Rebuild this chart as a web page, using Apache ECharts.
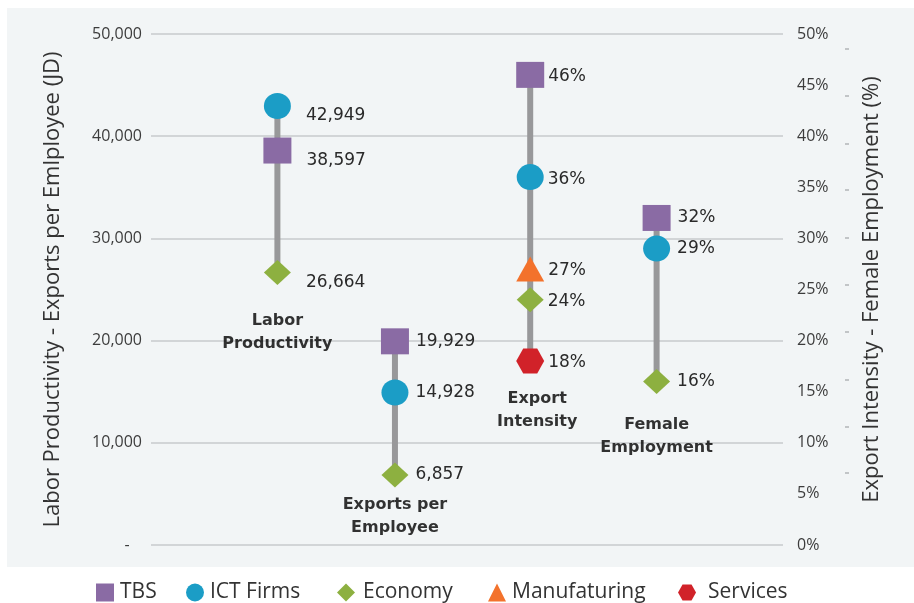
<!DOCTYPE html>
<html>
<head>
<meta charset="utf-8">
<script src="https://cdn.jsdelivr.net/npm/echarts@6/dist/echarts.min.js"></script>
<style>
  html, body { margin: 0; padding: 0; background: #ffffff; }
  #chart { width: 914px; height: 603px; }
</style>
</head>
<body>
<div id="chart"></div>
<script>
// Indicator groups along the horizontal axis
const categories = ['Labor\nProductivity', 'Exports per\nEmployee', 'Export\nIntensity', 'Female\nEmployment'];
const categoryX = [1, 1.93, 3, 4];
// 0 = JD axis on the left, 1 = percent axis on the right
const categoryAxis = [0, 0, 1, 1];

// Values per firm group (JD for the first two indicators, % for the last two)
const tbs = [38597, 19929, 46, 32];
const ictFirms = [42949, 14928, 36, 29];
const economy = [26664, 6857, 24, 16];
const manufacturing = [null, null, 27, null];
const services = [null, null, 18, null];

// Small dashes drawn beside the percent scale
const percentDashValues = [48.6, 44.0, 39.3, 34.8, 30.1, 25.5, 20.9, 16.2, 11.6, 7.1];

const HEXAGON = 'path://M0,50 L25,6 L75,6 L100,50 L75,94 L25,94 Z';
const labelFont = 'DejaVu Sans';
const textFont = 'Open Sans';

const groups = [
  { name: 'TBS', values: tbs, symbol: 'rect', size: [28, 26], color: '#8a6ba4' },
  { name: 'ICT Firms', values: ictFirms, symbol: 'circle', size: [27, 26], color: '#1b9dc6' },
  { name: 'Economy', values: economy, symbol: 'diamond', size: [27, 25], color: '#8db040' },
  { name: 'Manufaturing', values: manufacturing, symbol: 'triangle', size: [28, 25], color: '#f3722c' },
  { name: 'Services', values: services, symbol: HEXAGON, size: [28, 25], color: '#d12229' }
];

// per-indicator nudges of the value labels and of the indicator titles
const valueLabelShift = [[10, 10], [2, 0], [-1, 2], [2, 0]];
const titleShift = [[0, 60], [0, 41], [7, 49], [0, 55]];
// left edge of each legend entry
const legendLeft = [96, 186, 337, 488, 678];
const legendTextGap = [6, 6, 8, 6, 12];

function fmt(v, axis) {
  return axis === 0 ? v.toLocaleString('en-US') : v + '%';
}

const series = [];

// grey stems joining the highest and lowest value of each indicator
categories.forEach((c, i) => {
  const vals = groups.map(g => g.values[i]).filter(v => v != null);
  series.push({
    type: 'line',
    yAxisIndex: categoryAxis[i],
    data: [[categoryX[i], Math.max(...vals)], [categoryX[i], Math.min(...vals)]],
    symbol: 'none',
    silent: true,
    lineStyle: { color: '#98989a', width: 6 },
    z: 1
  });
});

// markers with their value labels
groups.forEach(g => {
  [0, 1].forEach(axis => {
    const data = [];
    categories.forEach((c, i) => {
      if (categoryAxis[i] !== axis || g.values[i] == null) return;
      data.push({
        value: [categoryX[i], g.values[i]],
        label: { offset: valueLabelShift[i] }
      });
    });
    if (!data.length) return;
    series.push({
      name: g.name,
      type: 'scatter',
      yAxisIndex: axis,
      data: data,
      symbol: g.symbol,
      symbolSize: g.size,
      itemStyle: { color: g.color, opacity: 1 },
      label: {
        show: true,
        position: 'right',
        distance: 5,
        color: '#2a2a2a',
        fontFamily: labelFont,
        fontSize: 17,
        formatter: p => fmt(p.value[1], axis)
      },
      z: 3
    });
  });
});

// indicator titles under each stem
[0, 1].forEach(axis => {
  const data = [];
  categories.forEach((c, i) => {
    if (categoryAxis[i] !== axis) return;
    const vals = groups.map(g => g.values[i]).filter(v => v != null);
    data.push({
      value: [categoryX[i], Math.min(...vals)],
      label: { formatter: c, offset: titleShift[i] }
    });
  });
  series.push({
    type: 'scatter',
    yAxisIndex: axis,
    data: data,
    symbolSize: 1,
    silent: true,
    itemStyle: { color: 'rgba(0,0,0,0)' },
    label: {
      show: true,
      position: 'inside',
      align: 'center',
      verticalAlign: 'middle',
      color: '#000000',
      fontFamily: labelFont,
      fontWeight: 'bold',
      fontSize: 16,
      lineHeight: 23
    },
    z: 4
  });
});

// one legend block per group so each entry sits at its own place
const legends = groups.map((g, i) => ({
  left: legendLeft[i],
  top: 582,
  itemWidth: 18,
  itemHeight: 18,
  padding: 0,
  selectedMode: false,
  textStyle: {
    fontFamily: textFont,
    fontSize: 21,
    color: '#333333',
    padding: [0, 0, 0, legendTextGap[i] - 5]
  },
  data: [{ name: g.name, icon: g.symbol }]
}));

const chart = echarts.init(document.getElementById('chart'));
chart.setOption({
  backgroundColor: '#ffffff',
  animation: false,
  graphic: [{
    type: 'rect',
    z: -100,
    silent: true,
    shape: { x: 7, y: 8, width: 907, height: 559 },
    style: { fill: '#f2f5f6' }
  }],
  grid: { left: 151, right: 131, top: 34, bottom: 58 },
  legend: legends,
  xAxis: { type: 'value', min: 0, max: 5, show: false },
  yAxis: [
    {
      type: 'value',
      position: 'left',
      min: 0, max: 50000, interval: 10000,
      name: 'Labor Productivity - Exports per Emlployee (JD)',
      nameLocation: 'middle',
      nameRotate: 90,
      nameGap: 87,
      nameTextStyle: { fontFamily: textFont, fontSize: 22, color: '#333333' },
      axisLine: { show: false },
      axisTick: { show: false },
      axisLabel: {
        margin: 9,
        color: '#3c3c3c',
        fontFamily: textFont,
        fontSize: 16,
        formatter: v => v === 0 ? '-   ' : v.toLocaleString('en-US')
      },
      splitLine: { lineStyle: { color: '#d2d5d7', width: 2 } }
    },
    {
      type: 'value',
      position: 'right',
      min: 0, max: 50, interval: 5,
      name: 'Export Intensity - Female Employment (%)',
      nameLocation: 'middle',
      nameRotate: 90,
      nameGap: 78,
      nameTextStyle: { fontFamily: textFont, fontSize: 22, color: '#333333' },
      axisLine: { show: false },
      axisTick: { show: false },
      axisLabel: {
        margin: 14,
        color: '#3c3c3c',
        fontFamily: textFont,
        fontSize: 16,
        formatter: '{value}%'
      },
      splitLine: { show: false }
    },
    {
      type: 'value',
      position: 'right',
      offset: 62,
      min: 0, max: 50,
      axisLine: { show: false },
      axisLabel: { show: false },
      splitLine: { show: false },
      axisTick: {
        show: true,
        length: 4,
        customValues: percentDashValues,
        lineStyle: { color: '#c2c5c7', width: 2 }
      }
    }
  ],
  series: series
});
</script>
</body>
</html>
